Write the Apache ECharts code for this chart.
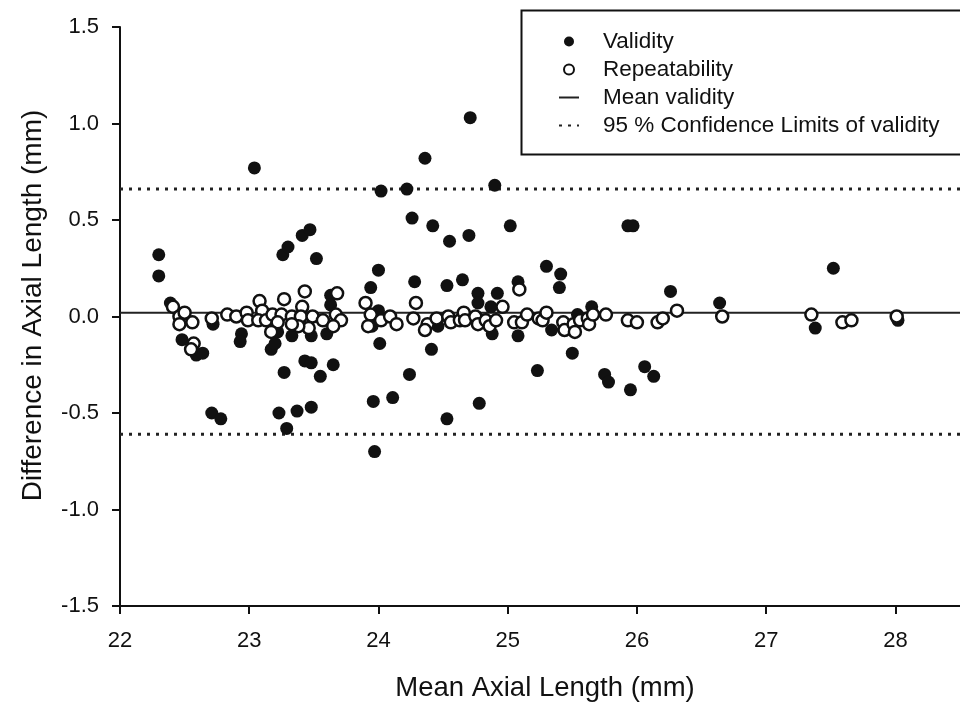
<!DOCTYPE html>
<html>
<head>
<meta charset="utf-8">
<script src="https://cdn.jsdelivr.net/npm/echarts@6/dist/echarts.min.js"></script>
<style>
html,body{margin:0;padding:0;background:#fff;}
#chart{width:960px;height:707px;}
</style>
</head>
<body>
<div id="chart"></div>
<script>
// Validity (filled circles)
var validityX = [22.30,22.30,22.39,22.48,22.59,22.64,22.72,22.71,22.78,22.94,22.93,23.04,23.17,23.20,23.22,23.26,23.30,23.23,23.29,23.27,23.33,23.37,23.41,23.47,23.52,23.43,23.48,23.48,23.48,23.55,23.60,23.63,23.63,23.65,23.94,24.00,24.00,24.01,23.96,23.97,23.95,24.02,24.11,24.22,24.24,24.26,24.28,24.36,24.41,24.42,24.46,24.53,24.53,24.55,24.65,24.70,24.71,24.77,24.77,24.78,24.87,24.88,24.90,24.92,25.02,25.08,25.08,25.23,25.30,25.34,25.41,25.40,25.50,25.54,25.65,25.75,25.78,25.93,25.97,25.95,26.06,26.13,26.26,26.64,27.52,27.38,28.02];
var validityY = [0.32,0.21,0.07,-0.12,-0.20,-0.19,-0.04,-0.50,-0.53,-0.09,-0.13,0.77,-0.17,-0.14,-0.08,0.32,0.36,-0.50,-0.58,-0.29,-0.10,-0.49,0.42,0.45,0.30,-0.23,-0.24,-0.10,-0.47,-0.31,-0.09,0.11,0.06,-0.25,0.15,0.24,0.03,-0.14,-0.44,-0.70,-0.05,0.65,-0.42,0.66,-0.30,0.51,0.18,0.82,-0.17,0.47,-0.05,0.16,-0.53,0.39,0.19,0.42,1.03,0.12,0.07,-0.45,0.05,-0.09,0.68,0.12,0.47,0.18,-0.10,-0.28,0.26,-0.07,0.22,0.15,-0.19,0.01,0.05,-0.30,-0.34,0.47,0.47,-0.38,-0.26,-0.31,0.13,0.07,0.25,-0.06,-0.02];
// Repeatability (open circles)
var repeatX = [22.41,22.46,22.50,22.46,22.56,22.57,22.55,22.71,22.83,22.90,22.98,22.99,23.08,23.10,23.07,23.13,23.18,23.25,23.22,23.17,23.27,23.43,23.41,23.33,23.40,23.49,23.46,23.38,23.33,23.57,23.67,23.68,23.71,23.65,23.90,23.94,23.92,24.02,24.09,24.14,24.27,24.29,24.38,24.36,24.45,24.54,24.56,24.63,24.66,24.67,24.75,24.77,24.83,24.86,24.91,24.96,25.05,25.09,25.11,25.15,25.24,25.27,25.30,25.43,25.44,25.51,25.52,25.56,25.62,25.63,25.66,25.76,25.93,26.00,26.16,26.20,26.31,26.66,27.35,27.59,27.66,28.01];
var repeatY = [0.05,0.00,0.02,-0.04,-0.03,-0.14,-0.17,-0.01,0.01,0.00,0.02,-0.02,0.08,0.03,-0.02,-0.02,0.01,0.01,-0.03,-0.08,0.09,0.13,0.05,0.00,0.00,0.00,-0.06,-0.05,-0.04,-0.02,0.01,0.12,-0.02,-0.05,0.07,0.01,-0.05,-0.02,0.00,-0.04,-0.01,0.07,-0.04,-0.07,-0.01,0.00,-0.03,-0.02,0.02,-0.02,0.00,-0.04,-0.02,-0.05,-0.02,0.05,-0.03,0.14,-0.03,0.01,-0.01,-0.02,0.02,-0.03,-0.07,-0.04,-0.08,-0.02,-0.01,-0.04,0.01,0.01,-0.02,-0.03,-0.03,-0.01,0.03,0.00,0.01,-0.03,-0.02,0.00];
// Reference lines
var meanValidity = 0.02;
var upperLimit = 0.66;
var lowerLimit = -0.61;
var xRange = [22, 28.5];
var xTicks = [22, 23, 24, 25, 26, 27, 28];
var yTicks = [-1.5, -1.0, -0.5, 0.0, 0.5, 1.0, 1.5];

function pairs(xs, ys){ return xs.map(function(x,i){ return [x, ys[i]]; }); }
function hline(v){ return [[xRange[0], v],[xRange[1], v]]; }

var FONT = 'Liberation Sans, Arial, sans-serif';
var NOSYM = {color: 'rgba(0,0,0,0)', borderColor: 'rgba(0,0,0,0)', borderWidth: 0};
var chart = echarts.init(document.getElementById('chart'), null, {renderer:'canvas'});
chart.setOption({
  backgroundColor: '#fff',
  animation: false,
  grid: {left: 120, top: 27, right: -4, bottom: 101, containLabel: false},
  xAxis: {
    type: 'value', min: xRange[0], max: xRange[1], interval: 1,
    name: 'Mean Axial Length (mm)', nameLocation: 'middle', nameGap: 68,
    nameTextStyle: {fontFamily: FONT, fontSize: 27.5, color: '#111', padding: [0,0,0,10]},
    axisLine: {show: true, onZero: false, lineStyle: {color: '#111', width: 2}},
    axisTick: {show: true, length: 8, customValues: xTicks, lineStyle: {color: '#111', width: 2}},
    axisLabel: {margin: 24, fontFamily: FONT, fontSize: 22, color: '#111', customValues: xTicks},
    splitLine: {show: false}
  },
  yAxis: {
    type: 'value', min: -1.5, max: 1.5, interval: 0.5,
    name: 'Difference in Axial Length (mm)', nameLocation: 'middle', nameGap: 73,
    nameTextStyle: {fontFamily: FONT, fontSize: 28, color: '#111', padding: [0,0,0,22]},
    axisLine: {show: true, onZero: false, lineStyle: {color: '#111', width: 2}},
    axisTick: {show: true, length: 8, customValues: yTicks, lineStyle: {color: '#111', width: 2}},
    axisLabel: {margin: 21, fontFamily: FONT, fontSize: 22, color: '#111', customValues: yTicks,
      formatter: function(v){ return v.toFixed(1); }},
    splitLine: {show: false}
  },
  legend: {
    orient: 'vertical', left: 553, top: 25,
    itemWidth: 20, itemHeight: 10, itemGap: 5,
    textStyle: {fontFamily: FONT, fontSize: 22.5, color: '#111', lineHeight: 20, padding: [0,0,0,19]},
    data: ['Validity', 'Repeatability', 'Mean validity', '95 % Confidence Limits of validity']
  },
  graphic: [{
    type: 'rect', left: 519, top: 8, z: 100,
    shape: {width: 480, height: 144},
    style: {fill: 'none', stroke: '#111', lineWidth: 2}
  }],
  series: [
    {
      name: 'Mean validity', type: 'line', data: hline(meanValidity),
      showSymbol: false, symbol: 'none', z: 1,
      lineStyle: {color: '#222', width: 2, type: 'solid'}, itemStyle: NOSYM
    },
    {
      name: '95 % Confidence Limits of validity', type: 'line', data: hline(upperLimit),
      showSymbol: false, symbol: 'none', z: 1,
      lineStyle: {color: '#222', width: 3, type: [3, 6]}, itemStyle: NOSYM
    },
    {
      name: '95 % Confidence Limits of validity', type: 'line', data: hline(lowerLimit),
      showSymbol: false, symbol: 'none', z: 1,
      lineStyle: {color: '#222', width: 3, type: [3, 6]}, itemStyle: NOSYM
    },
    {
      name: 'Validity', type: 'scatter', data: pairs(validityX, validityY),
      symbol: 'circle', symbolSize: 13, z: 2,
      itemStyle: {color: '#111', opacity: 1}
    },
    {
      name: 'Repeatability', type: 'scatter', data: pairs(repeatX, repeatY),
      symbol: 'circle', symbolSize: 12, z: 3,
      itemStyle: {color: '#fff', borderColor: '#111', borderWidth: 2.5, opacity: 1}
    }
  ]
});
</script>
</body>
</html>
